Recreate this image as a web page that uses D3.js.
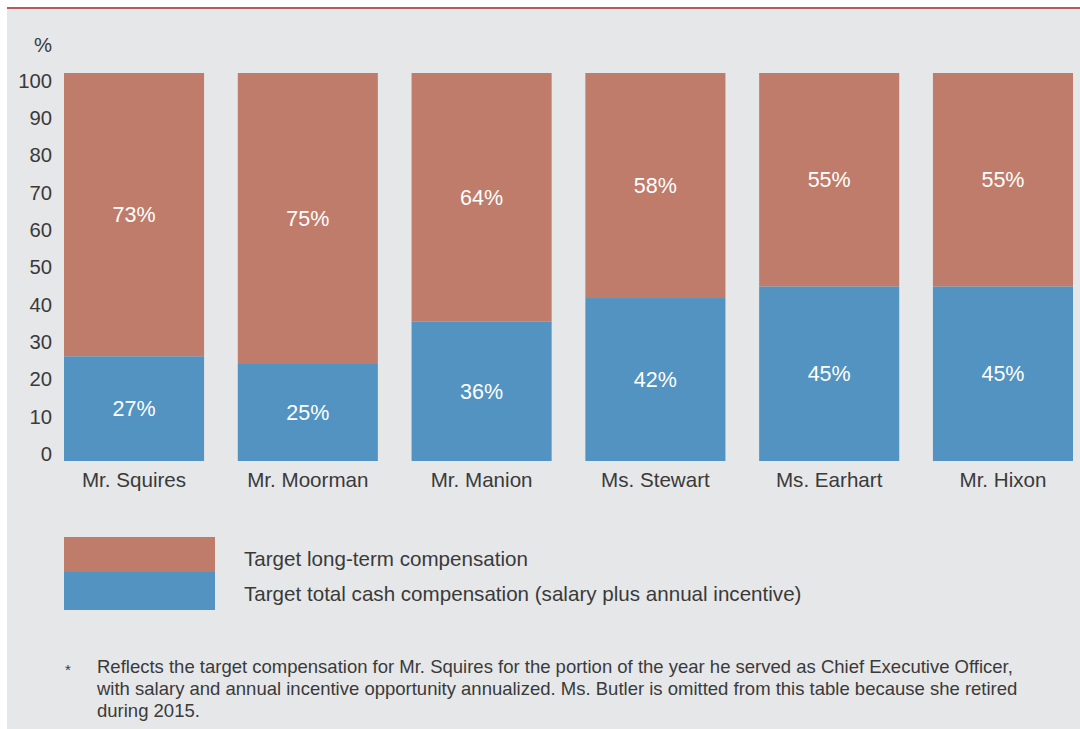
<!DOCTYPE html>
<html>
<head>
<meta charset="utf-8">
<script src="https://cdn.jsdelivr.net/npm/d3@7"></script>
<style>
	body { margin: 0; background: #fff; }
	svg text { font-family: "Liberation Sans", Arial, sans-serif; }
</style>
</head>
<body>
<svg id="chart"></svg>
<script>
// values
var names = ["Mr. Squires", "Mr. Moorman", "Mr. Manion", "Ms. Stewart", "Ms. Earhart", "Mr. Hixon"]
var cash = [27, 25, 36, 42, 45, 45]
var longTerm = [73, 75, 64, 58, 55, 55]
var yTicks = [0, 10, 20, 30, 40, 50, 60, 70, 80, 90, 100]
var seriesNames = ["Target long-term compensation", "Target total cash compensation (salary plus annual incentive)"]
var footnote = [
	"Reflects the target compensation for Mr. Squires for the portion of the year he served as Chief Executive Officer,",
	"with salary and annual incentive opportunity annualized. Ms. Butler is omitted from this table because she retired",
	"during 2015."
]

var colors = { longTerm: "#c07c6a", cash: "#5293c2" }

function buildChart() {
	var dim = { width: 1080, height: 729 }

	var svg = d3.select('#chart')
		.attr('width', dim.width)
		.attr('height', dim.height)

	// grey panel + red top rule
	svg.append('rect')
		.attr('x', 7).attr('y', 8)
		.attr('width', dim.width - 7).attr('height', dim.height - 8)
		.attr('fill', '#e6e7e9')
	svg.append('line')
		.attr('x1', 7).attr('x2', dim.width)
		.attr('y1', 8).attr('y2', 8)
		.attr('stroke', '#b55b5b').attr('stroke-width', 2)

	var data = names.map((n, i) => ({ name: n, cash: cash[i], longTerm: longTerm[i] }))

	var x = d3.scaleBand()
		.domain(names)
		.range([64, 1073])
		.paddingInner(0.194)
		.paddingOuter(0)

	var y = d3.scaleLinear()
		.domain([0, 100])
		.range([461, 73])

	// tick labels sit slightly inside the bar extent in the original
	var yLab = d3.scaleLinear()
		.domain([0, 100])
		.range([454, 80.5])

	var yAxis = svg.append('g')
		.attr('transform', 'translate(52,0)')
		.call(d3.axisLeft(yLab).tickValues(yTicks).tickSize(0).tickPadding(0))
	yAxis.select('.domain').remove()
	yAxis.selectAll('text')
		.attr('font-size', 20.3)
		.attr('fill', '#3a3a3a')
		.attr('font-family', '"Liberation Sans", Arial, sans-serif')

	svg.append('text')
		.attr('x', 52).attr('y', 52)
		.attr('text-anchor', 'end')
		.attr('font-size', 20.3)
		.attr('fill', '#3a3a3a')
		.text('%')

	var stack = d3.stack().keys(['cash', 'longTerm'])(data)

	var layers = svg.selectAll('g.layer')
		.data(stack)
		.enter()
		.append('g')
			.attr('class', 'layer')
			.attr('fill', d => colors[d.key])

	layers.selectAll('rect')
		.data(d => d)
		.enter()
		.append('rect')
			.attr('x', d => x(d.data.name))
			.attr('y', d => y(d[1]))
			.attr('width', x.bandwidth())
			.attr('height', d => y(d[0]) - y(d[1]))

	layers.selectAll('text')
		.data(d => d)
		.enter()
		.append('text')
			.attr('x', d => x(d.data.name) + x.bandwidth() / 2)
			.attr('y', d => (y(d[0]) + y(d[1])) / 2 + 7.5)
			.attr('text-anchor', 'middle')
			.attr('font-size', 21.5)
			.attr('fill', '#fff')
			.text(d => (d[1] - d[0]) + '%')

	var xAxis = svg.append('g')
		.attr('transform', 'translate(0,461)')
		.call(d3.axisBottom(x).tickSize(0).tickPadding(0))
	xAxis.select('.domain').remove()
	xAxis.selectAll('text')
		.attr('dy', 0)
		.attr('y', 25.5)
		.attr('font-size', 20.6)
		.attr('fill', '#3a3a3a')
		.attr('font-family', '"Liberation Sans", Arial, sans-serif')

	// legend
	var legend = svg.append('g')
	legend.append('rect')
		.attr('x', 64).attr('y', 537).attr('width', 151).attr('height', 35)
		.attr('fill', colors.longTerm)
	legend.append('rect')
		.attr('x', 64).attr('y', 572).attr('width', 151).attr('height', 38)
		.attr('fill', colors.cash)
	legend.selectAll('text')
		.data(seriesNames)
		.enter()
		.append('text')
			.attr('x', 244)
			.attr('y', (d, i) => 565.5 + i * 35)
			.attr('font-size', 20.6)
			.attr('fill', '#3a3a3a')
			.text(d => d)

	// footnote
	svg.append('text')
		.attr('x', 65).attr('y', 675)
		.attr('font-size', 15)
		.attr('fill', '#3a3a3a')
		.text('*')
	svg.selectAll('text.note')
		.data(footnote)
		.enter()
		.append('text')
			.attr('class', 'note')
			.attr('x', 97)
			.attr('y', (d, i) => 673 + i * 22)
			.attr('font-size', 18.5)
			.attr('fill', '#3a3a3a')
			.text(d => d)
}

buildChart()
</script>
</body>
</html>
